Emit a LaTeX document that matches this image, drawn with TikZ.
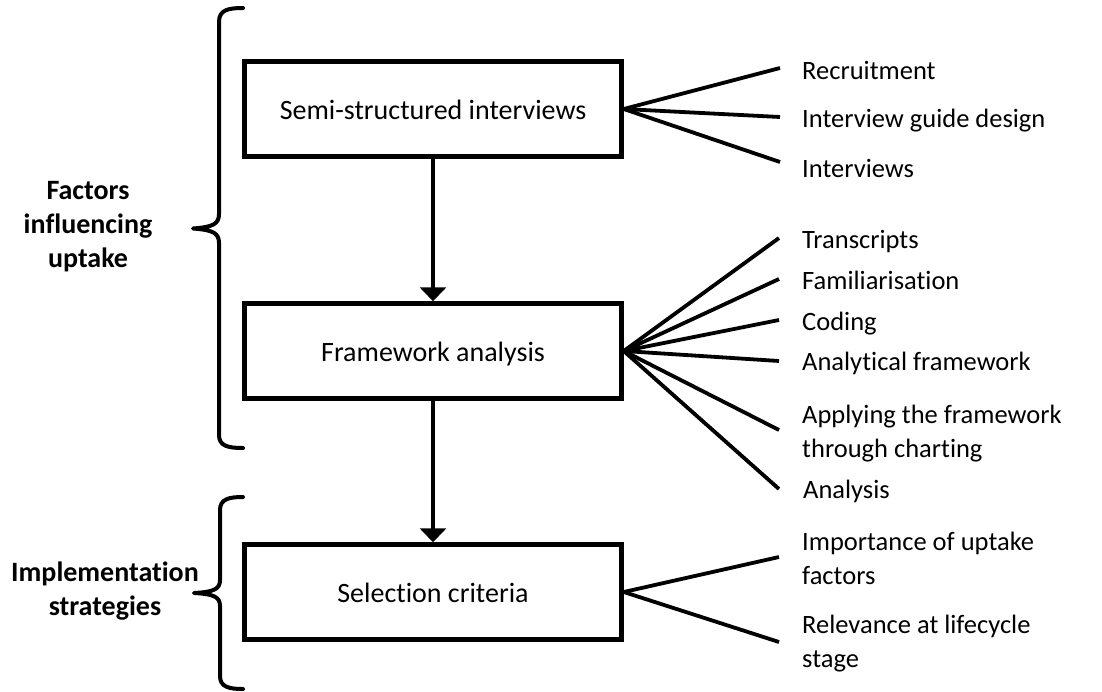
\documentclass[tikz,border=0pt]{standalone}
\usepackage{fontspec}
\setmainfont{Carlito}[Ligatures={NoCommon}]
\usetikzlibrary{arrows.meta}
\begin{document}
\begin{tikzpicture}[x=1pt,y=-1pt,
  every node/.style={font=\fontsize{26.5}{34}\selectfont, inner sep=0pt},
  stagebox/.style={draw, line width=4.5pt, minimum width=377pt, minimum height=95pt, text height=21pt, text depth=0pt, font=\fontsize{28}{34}\selectfont},
  lbl/.style={anchor=base west},
  sidelbl/.style={anchor=base, font=\fontsize{28}{34}\selectfont\bfseries},
  fan/.style={line width=3.8pt},
  flow/.style={line width=4pt, -{Triangle[width=26pt,length=14pt]}},
  bracestyle/.style={line width=4pt, line cap=round, line join=round}]
\useasboundingbox[fill=white] (0,0) rectangle (1102,691);

% boxes
\node[stagebox] (semi) at (433,109) {Semi-structured interviews};
\node[stagebox] (fw)   at (433,351) {Framework analysis};
\node[stagebox] (sel)  at (433,592) {Selection criteria};

% flow arrows
\draw[flow] (semi.south) -- (fw.north);
\draw[flow] (fw.south) -- (sel.north);

% fan end points
\coordinate (a1) at (780,68);
\coordinate (a2) at (780,117);
\coordinate (a3) at (780,162);
\coordinate (b1) at (779,238);
\coordinate (b2) at (779,279);
\coordinate (b3) at (779,320);
\coordinate (b4) at (779,361);
\coordinate (b5) at (779,430);
\coordinate (b6) at (779,489);
\coordinate (c1) at (779,557);
\coordinate (c2) at (779,642);

\foreach \p in {a1,a2,a3} \draw[fan] (semi.east) -- (\p);
\foreach \p in {b1,b2,b3,b4,b5,b6} \draw[fan] (fw.east) -- (\p);
\foreach \p in {c1,c2} \draw[fan] (sel.east) -- (\p);

% right labels
\node[lbl] (recr) at (802,79) {Recruitment};
\node[lbl] (guide) at (802,127) {Interview guide design};
\node[lbl] (intv) at (802,177) {Interviews};
\node[lbl] (trans) at (802,248) {Transcripts};
\node[lbl] (fam) at (802,289) {Familiarisation};
\node[lbl] (cod) at (802,330) {Coding};
\node[lbl] (anf) at (802,370) {Analytical framework};
\node[lbl] (appl) at (802,423) {\begin{tabular}[t]{@{}l@{}}Applying the framework\\through charting\end{tabular}};
\node[lbl] (anal) at (803,498) {Analysis};
\node[lbl] (imp) at (802,550) {\begin{tabular}[t]{@{}l@{}}Importance of uptake\\factors\end{tabular}};
\node[lbl] (rel) at (802,633) {\begin{tabular}[t]{@{}l@{}}Relevance at lifecycle\\stage\end{tabular}};

% braces
\draw[bracestyle] (243,8) .. controls (228,8) and (219,10) .. (219,22) -- (219,214)
  .. controls (219,224) and (213,227) .. (193,228.5)
  .. controls (213,230) and (219,233) .. (219,243) -- (219,435)
  .. controls (219,446) and (228,448) .. (243,448);
\draw[bracestyle] (243,497) .. controls (229,497) and (220,499) .. (220,510) -- (220,580)
  .. controls (220,589) and (214,592) .. (194,593)
  .. controls (214,594) and (220,597) .. (220,606) -- (220,676)
  .. controls (220,687) and (229,689) .. (243,689);

% side labels
\node[sidelbl] (fac) at (88,199) {\begin{tabular}[t]{@{}c@{}}Factors\\influencing\\uptake\end{tabular}};
\node[sidelbl] (impl) at (105,581) {\begin{tabular}[t]{@{}c@{}}Implementation\\strategies\end{tabular}};
\end{tikzpicture}
\end{document}
